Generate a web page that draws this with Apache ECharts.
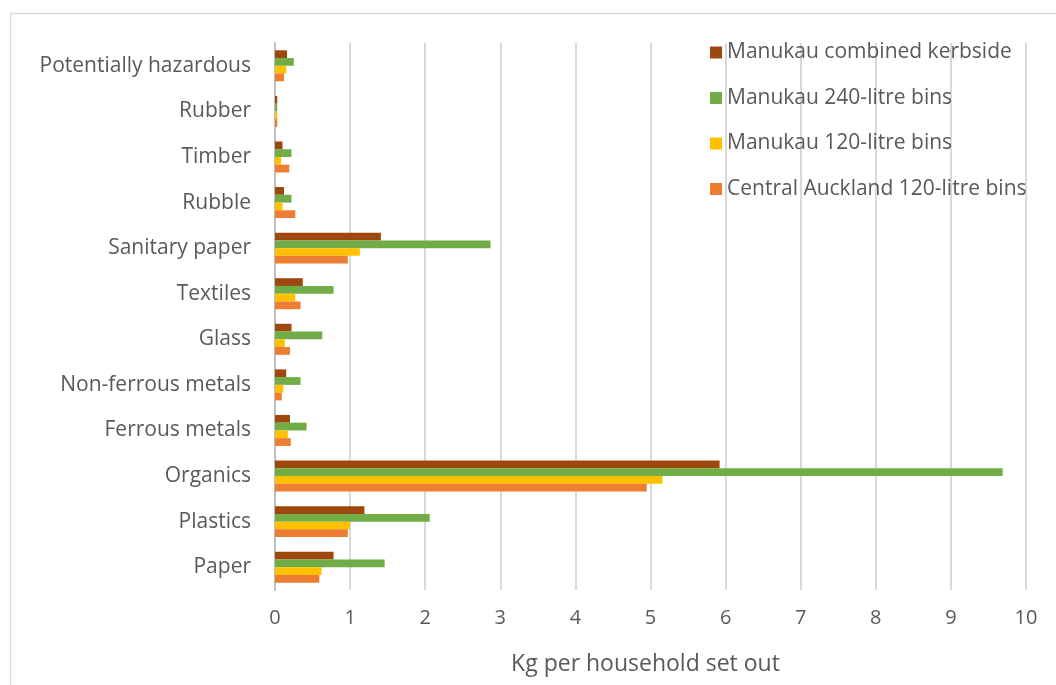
<!DOCTYPE html>
<html>
<head>
<meta charset="utf-8">
<script src="https://cdn.jsdelivr.net/npm/echarts@6/dist/echarts.min.js"></script>
<style>
  html, body { margin: 0; padding: 0; background: #fff; }
  #chart { width: 1056px; height: 685px; }
</style>
</head>
<body>
<div id="chart"></div>
<script>
// Waste composition per household set out (kg), bottom category first
const categories = ['Paper', 'Plastics', 'Organics', 'Ferrous metals', 'Non-ferrous metals', 'Glass',
  'Textiles', 'Sanitary paper', 'Rubble', 'Timber', 'Rubber', 'Potentially hazardous'];

const combinedKerbside = [0.78, 1.19, 5.92, 0.20, 0.15, 0.22, 0.37, 1.41, 0.12, 0.10, 0.03, 0.16];
const manukau240 =       [1.46, 2.06, 9.69, 0.42, 0.34, 0.63, 0.78, 2.87, 0.22, 0.22, 0.03, 0.25];
const manukau120 =       [0.62, 1.00, 5.16, 0.17, 0.11, 0.13, 0.27, 1.13, 0.10, 0.08, 0.03, 0.15];
const centralAkl120 =    [0.59, 0.97, 4.95, 0.21, 0.09, 0.20, 0.34, 0.97, 0.27, 0.19, 0.03, 0.12];

const seriesNames = ['Manukau combined kerbside', 'Manukau 240-litre bins', 'Manukau 120-litre bins', 'Central Auckland 120-litre bins'];
const seriesColors = ['#9E480E', '#70AD47', '#FFC000', '#ED7D31'];
const seriesValues = [combinedKerbside, manukau240, manukau120, centralAkl120];

const FONT = '"Open Sans", Lato, sans-serif';
const TEXT = '#595959';

const chart = echarts.init(document.getElementById('chart'), null, { renderer: 'canvas' });

// First series sits at the top of each category band
const series = seriesNames.map((name, i) => ({
  name: name,
  type: 'bar',
  data: seriesValues[i],
  barGap: '0%',
  barCategoryGap: '32%',
  itemStyle: { color: seriesColors[i] },
  emphasis: { disabled: true }
}));

chart.setOption({
  animation: false,
  backgroundColor: '#fff',
  graphic: [{
    type: 'rect',
    shape: { x: 10.5, y: 13.5, width: 1060, height: 700 },
    style: { fill: 'none', stroke: '#D9D9D9', lineWidth: 1.5 },
    silent: true
  }],
  legend: {
    orient: 'vertical',
    left: 705,
    top: 37,
    padding: [5, 5, 5, 5],
    itemWidth: 12,
    itemHeight: 12,
    itemGap: 24.5,
    icon: 'rect',
    data: seriesNames,
    textStyle: { color: TEXT, fontSize: 21, lineHeight: 21, fontFamily: FONT, padding: [0, 0, 0, 0] }
  },
  grid: { left: 275, right: 30, top: 43, bottom: 95, containLabel: false },
  xAxis: {
    type: 'value',
    min: 0,
    max: 10,
    interval: 1,
    name: 'Kg per household set out',
    nameLocation: 'middle',
    nameGap: 63,
    nameTextStyle: { color: TEXT, fontSize: 23, fontFamily: FONT, padding: [0, 10, 0, 0] },
    axisLine: { show: false },
    axisTick: { show: false },
    axisLabel: { color: TEXT, fontSize: 20, fontFamily: FONT, margin: 18 },
    splitLine: { show: true, lineStyle: { color: '#D9D9D9', width: 2 } }
  },
  yAxis: {
    type: 'category',
    data: categories,
    axisLine: { show: true, lineStyle: { color: '#BFBFBF', width: 2 } },
    axisTick: { show: false },
    axisLabel: { color: TEXT, fontSize: 21, fontFamily: FONT, margin: 24 }
  },
  series: series
});
</script>
</body>
</html>
